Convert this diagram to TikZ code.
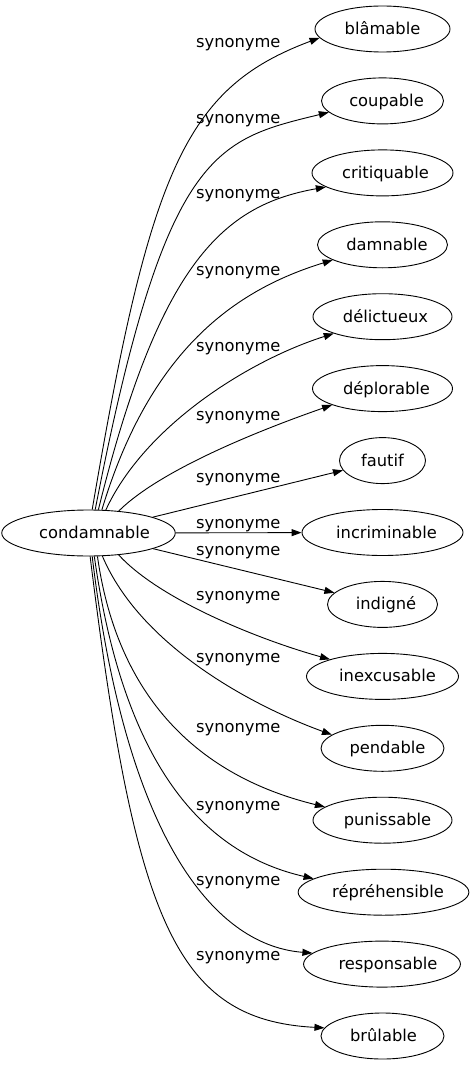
\documentclass[tikz,border=0pt]{standalone}
\usepackage{fontspec}
\setmainfont{DejaVu Sans}
\usetikzlibrary{arrows.meta,shapes.geometric}
\newcommand{\sh}[2]{\hspace*{#1pt}#2}
\begin{document}
\begin{tikzpicture}[x=1pt,y=-1pt,
  every node/.style={font=\fontsize{16.3}{19}\selectfont, text height=12.4pt, text depth=1.4pt},
  word/.style={draw, ellipse, inner sep=0pt, minimum height=46pt, line width=0.9pt},
  lbl/.style={inner sep=0pt},
  syn/.style={draw, line width=0.9pt, -{Triangle[length=10pt,width=7pt]}}]
\useasboundingbox (0,0) rectangle (474,1067);
% nodes
\node[word, minimum width=167pt] (c) at (88.5,533) {\sh{12}{condamnable}};
\node[word, minimum width=135pt] (n1) at (382.5,29) {blâmable};
\node[word, minimum width=122pt] (n2) at (382.5,100.9) {\sh{8}{coupable}};
\node[word, minimum width=141pt] (n3) at (382.5,172.9) {\sh{6}{critiquable}};
\node[word, minimum width=130pt] (n4) at (382.5,244.8) {\sh{9}{damnable}};
\node[word, minimum width=139pt] (n5) at (382.5,316.7) {\sh{6}{délictueux}};
\node[word, minimum width=140pt] (n6) at (382.5,388.6) {\sh{8}{déplorable}};
\node[word, minimum width=86pt] (n7) at (382.5,460.6) {fautif};
\node[word, minimum width=161pt] (n8) at (382.5,532.5) {\sh{8}{incriminable}};
\node[word, minimum width=110pt] (n9) at (382.5,604.4) {\sh{7}{indigné}};
\node[word, minimum width=152pt] (n10) at (382.5,676.4) {\sh{10}{inexcusable}};
\node[word, minimum width=123pt] (n11) at (382.5,748.3) {\sh{10}{pendable}};
\node[word, minimum width=139pt] (n12) at (382.5,820.2) {\sh{10}{punissable}};
\node[word, minimum width=169pt] (n13) at (383.5,892.2) {\sh{9}{répréhensible}};
\node[word, minimum width=151pt] (n14) at (382,964.1) {\sh{12}{responsable}};
\node[word, minimum width=123pt] (n15) at (382.5,1036) {\sh{2}{brûlable}};
% labels
\node[lbl] (l1) at (238.3,42.2) {synonyme};
\node[lbl] (l2) at (238.3,118.5) {synonyme};
\node[lbl] (l3) at (238.3,193.5) {synonyme};
\node[lbl] (l4) at (238.3,270.2) {synonyme};
\node[lbl] (l5) at (238.3,346.2) {synonyme};
\node[lbl] (l6) at (238.3,415.2) {synonyme};
\node[lbl] (l7) at (238.3,477.2) {synonyme};
\node[lbl] (l8) at (238.3,522.5) {synonyme};
\node[lbl] (l9) at (238.3,549.5) {synonyme};
\node[lbl] (l10) at (238.3,595.2) {synonyme};
\node[lbl] (l11) at (238.3,656.5) {synonyme};
\node[lbl] (l12) at (238.3,727.2) {synonyme};
\node[lbl] (l13) at (238.3,804.5) {synonyme};
\node[lbl] (l14) at (238.3,879.5) {synonyme};
\node[lbl] (l15) at (238.3,955.2) {synonyme};
% edges
\draw[syn] (c.81.3) .. controls (150,170) and (185,88) .. (n1.188.2);
\draw[syn] (c.74.2) .. controls (165,150) and (215,140) .. (n2.192.7);
\draw[syn] (c.67.6) .. controls (160,260) and (225,205) .. (n3.194.4);
\draw[syn] (c.60.4) .. controls (150,350) and (235,290) .. (n4.197.7);
\draw[syn] (c.53.1) .. controls (145,425) and (250,360) .. (n5.199.4);
\draw[syn] (c.36.1) .. controls (160,470) and (260,430) .. (n6.198.6);
\draw[syn] (c) -- (n7);
\draw[syn] (c) -- (n8);
\draw[syn] (c) -- (n9);
\draw[syn] (c.-36.1) .. controls (160,600) and (260,640) .. (n10.162.7);
\draw[syn] (c.-59) .. controls (140,645) and (250,705) .. (n11.165);
\draw[syn] (c.-69.7) .. controls (122,730) and (235,785) .. (n12.167);
\draw[syn] (c.-76.6) .. controls (125,775) and (210,855) .. (n13.169);
\draw[syn] (c.-81.3) .. controls (125,830) and (210,945) .. (n14.171);
\draw[syn] (c.-86.3) .. controls (135,920) and (175,1020) .. (n15.172.5);
\end{tikzpicture}
\end{document}
